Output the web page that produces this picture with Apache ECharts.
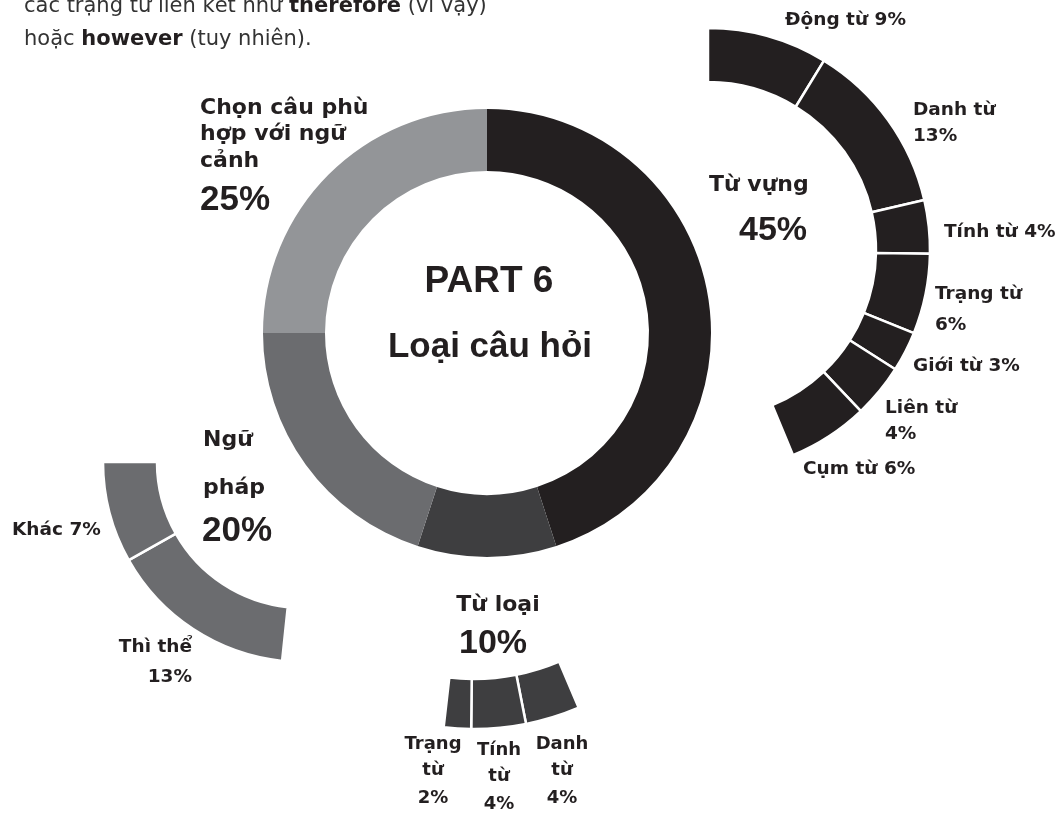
<!DOCTYPE html>
<html><head><meta charset="utf-8">
<script src="https://cdn.jsdelivr.net/npm/echarts@6/dist/echarts.min.js"></script>
<style>html,body{margin:0;padding:0;background:#fff}#c{width:1057px;height:814px}</style>
</head><body><div id="c"></div>
<script>
// ---- data ----
const categories = ['Từ vựng', 'Từ loại', 'Ngữ pháp', 'Chọn câu phù hợp với ngữ cảnh'];
const categoryValues = [45, 10, 20, 25];
const vocabNames = ['Động từ', 'Danh từ', 'Tính từ', 'Trạng từ', 'Giới từ', 'Liên từ', 'Cụm từ'];
const vocabValues = [9, 13, 4, 6, 3, 4, 6];
const wordFormNames = ['Danh từ', 'Tính từ', 'Trạng từ'];
const wordFormValues = [4, 4, 2];
const grammarNames = ['Thì thể', 'Khác'];
const grammarValues = [13, 7];
const titleLines = ['PART 6', 'Loại câu hỏi'];
const introLines = ['các trạng từ liên kết như {b|therefore} (vì vậy)', 'hoặc {b|however} (tuy nhiên).'];

// ---- style ----
const colors = ['#231f20', '#3e3e40', '#6b6c6f', '#939598'];
const INK = '#231f20';
const LABEL_FONT = 'DejaVu Sans';
const BIG_FONT = 'Liberation Sans';

const chart = echarts.init(document.getElementById('c'), null, {renderer: 'canvas'});
const pct = v => v + '%';
const words = s => s.split(' ');

const els = [];
function txt(str, x, y, size, o = {}) {
  els.push({
    type: 'text', silent: true, x: x, y: y,
    style: {
      text: str, fontSize: size, fontFamily: o.family || LABEL_FONT,
      fontWeight: o.weight || 'bold', fill: o.fill || INK,
      align: o.align || 'left', verticalAlign: 'middle', rich: o.rich
    }
  });
}

// intro text (cut off at top)
introLines.forEach((l, i) => txt(l, 24, 6.5 + i * 33, 21, {
  weight: 'normal', fill: '#333333',
  rich: {b: {fontWeight: 'bold', fontSize: 21, fontFamily: LABEL_FONT, fill: '#231f20'}}
}));

// center title
txt(titleLines[0], 489, 282, 37, {family: BIG_FONT, align: 'center'});
txt(titleLines[1], 490, 347, 35, {family: BIG_FONT, align: 'center'});

// main category labels
const M = 22;
const chon = words(categories[3]);
[chon.slice(0, 3).join(' '), chon.slice(3, 6).join(' '), chon.slice(6).join(' ')]
  .forEach((l, i) => txt(l, 200, 108 + i * 26.5, M));
txt(pct(categoryValues[3]), 200, 200, 35, {family: BIG_FONT});

txt(categories[0], 709, 185, M);
txt(pct(categoryValues[0]), 739, 231, 34, {family: BIG_FONT});

const np = words(categories[2]);
txt(np[0], 203, 440, M);
txt(np[1], 203, 488, M);
txt(pct(categoryValues[2]), 202, 531, 35, {family: BIG_FONT});

txt(categories[1], 498, 605, M, {align: 'center'});
txt(pct(categoryValues[1]), 493, 644, 34, {family: BIG_FONT, align: 'center'});

// vocab sub labels
const S = 18.5;
txt(vocabNames[0] + ' ' + pct(vocabValues[0]), 785, 20, S);
txt(vocabNames[1], 913, 110, S); txt(pct(vocabValues[1]), 913, 136, S);
txt(vocabNames[2] + ' ' + pct(vocabValues[2]), 944, 232, S);
txt(vocabNames[3], 935, 294, S); txt(pct(vocabValues[3]), 935, 325, S);
txt(vocabNames[4] + ' ' + pct(vocabValues[4]), 913, 366, S);
txt(vocabNames[5], 885, 408, S); txt(pct(vocabValues[5]), 885, 434, S);
txt(vocabNames[6] + ' ' + pct(vocabValues[6]), 803, 469, S);

// grammar sub labels
txt(grammarNames[1] + ' ' + pct(grammarValues[1]), 12, 530, S);
txt(grammarNames[0], 192, 647, S, {align: 'right'});
txt(pct(grammarValues[0]), 192, 677, S, {align: 'right'});

// word form sub labels (Danh, Tính, Trạng)
const wfX = [562, 499, 433];
const wfY = [744, 750, 744];
wordFormNames.forEach((n, i) => {
  const w = words(n);
  txt(w[0], wfX[i], wfY[i], 18, {align: 'center'});
  txt(w[1], wfX[i], wfY[i] + 26.5, 18, {align: 'center'});
  txt(pct(wordFormValues[i]), wfX[i], wfY[i] + 54, 18, {align: 'center'});
});

const common = {
  type: 'pie', silent: true, animation: false, avoidLabelOverlap: false,
  label: {show: false}, labelLine: {show: false}, emphasis: {disabled: true}
};
const sub = (names, vals, color) => names.map((n, i) => ({
  name: n, value: vals[i],
  itemStyle: {color: color, borderColor: '#ffffff', borderWidth: 2.5}
}));

chart.setOption({
  backgroundColor: '#ffffff',
  tooltip: {show: false},
  series: [
    Object.assign({}, common, {
      center: [487, 333], radius: [162, 224], startAngle: 90,
      data: categories.map((n, i) => ({name: n, value: categoryValues[i], itemStyle: {color: colors[i]}}))
    }),
    Object.assign({}, common, {
      center: [708, 250], radius: [168, 222], startAngle: 90, endAngle: -67.5,
      data: sub(vocabNames, vocabValues, colors[0])
    }),
    Object.assign({}, common, {
      center: [303, 462], radius: [146, 200], startAngle: -96, endAngle: -180,
      data: sub(grammarNames, grammarValues, colors[2])
    }),
    Object.assign({}, common, {
      center: [474, 461], radius: [218, 268], startAngle: -67, endAngle: -96.5,
      data: sub(wordFormNames, wordFormValues, colors[1])
    })
  ],
  graphic: {elements: els}
});
</script>
</body></html>
